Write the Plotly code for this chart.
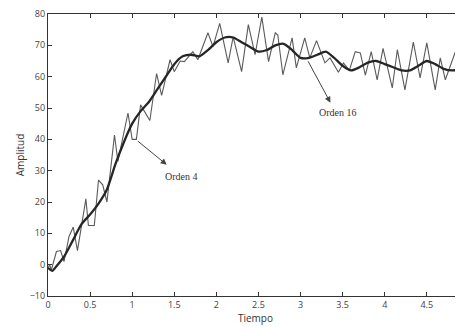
import plotly.graph_objects as go

# Orden 4 (noisy) response
t_orden4 = [0, 0.02, 0.04, 0.1, 0.15, 0.19, 0.25, 0.3, 0.35, 0.4, 0.45, 0.48, 0.55, 0.6, 0.65,
            0.7, 0.79, 0.83, 0.95, 1.0, 1.05, 1.1, 1.17, 1.21, 1.29, 1.35, 1.45, 1.5, 1.57,
            1.62, 1.72, 1.78, 1.9, 1.96, 2.04, 2.14, 2.2, 2.3, 2.38, 2.46, 2.54, 2.62, 2.7,
            2.73, 2.79, 2.9, 2.95, 3.05, 3.11, 3.19, 3.29, 3.35, 3.45, 3.51, 3.58, 3.65, 3.71,
            3.77, 3.84, 3.91, 3.98, 4.09, 4.15, 4.24, 4.34, 4.42, 4.5, 4.6, 4.66, 4.72, 4.84,
            4.9, 4.95]
y_orden4 = [-1, 0, -1.7, 4.2, 4.5, 1, 9, 12, 4.5, 13, 21, 12.5, 12.5, 27, 25.5,
            20, 41.4, 33, 48.4, 40, 40, 51, 48, 46, 61, 54, 65.4, 61.6, 65,
            64.8, 68, 65.4, 74, 69.6, 77, 64.4, 72.7, 61.6, 76.6, 67, 79, 64.8, 74,
            73.3, 60.6, 72.4, 62.8, 72.4, 66, 71.5, 64.4, 66, 61.4, 64.4, 62, 68, 67.6,
            60.5, 68, 59, 69, 56.4, 68.6, 55.8, 71, 59.6, 70.8, 55.8, 66, 59, 68,
            59.6, 65]

# Orden 16 (smooth) response
t_orden16 = [0, 0.05, 0.1, 0.2, 0.3, 0.4, 0.5, 0.6, 0.7, 0.8, 0.9, 1.0, 1.1, 1.2, 1.3, 1.4,
             1.5, 1.6, 1.7, 1.8, 1.9, 2.0, 2.1, 2.2, 2.3, 2.4, 2.5, 2.6, 2.7, 2.8, 2.9, 3.0,
             3.1, 3.2, 3.3, 3.4, 3.5, 3.6, 3.7, 3.8, 3.9, 4.0, 4.1, 4.2, 4.3, 4.4, 4.5, 4.6,
             4.7, 4.8, 4.9, 4.95]
y_orden16 = [-1, -2, -0.5, 3, 8, 13, 16, 19.5, 24, 32, 39, 45, 49, 52, 56, 60,
             64, 66.5, 67, 66.5, 68.5, 71, 72.5, 72.5, 71, 69.5, 68, 68.5, 70, 70.5, 68.5, 66,
             66, 67, 68, 66, 63.5, 62, 63, 64.5, 65, 64, 63, 62, 62, 63.5, 65, 64,
             62.5, 62, 62.5, 64]

x_ticks = [0, 0.5, 1, 1.5, 2, 2.5, 3, 3.5, 4, 4.5]
x_tick_labels = ["0", "0.5", "1", "1.5", "2", "2.5", "3", "3.5", "4", "4.5"]
y_ticks = [-10, 0, 10, 20, 30, 40, 50, 60, 70, 80]

fig = go.Figure()
fig.add_trace(go.Scatter(x=t_orden4, y=y_orden4, mode="lines",
                         line=dict(color="#5a5a5a", width=1.1), name="Orden 4"))
fig.add_trace(go.Scatter(x=t_orden16, y=y_orden16, mode="lines",
                         line=dict(color="#262626", width=2.3, shape="spline", smoothing=0.6),
                         name="Orden 16"))

sans = "Open Sans, Liberation Sans, sans-serif"
tickfont = dict(family=sans, size=9, color="#444")
fig.update_layout(
    width=455, height=319,
    margin=dict(l=40, r=0, t=6, b=31, autoexpand=False),
    paper_bgcolor="white", plot_bgcolor="white",
    showlegend=False,
    xaxis=dict(range=[0, 4.93], tickvals=x_ticks, ticktext=x_tick_labels,
               ticks="inside", ticklen=4, tickcolor="#333", showline=True,
               linecolor="#333", linewidth=1.2, mirror="ticks", showgrid=False,
               zeroline=False, tickfont=tickfont, ticklabeloverflow="allow",
               title=dict(text="Tiempo", standoff=1,
                          font=dict(family=sans, size=10, color="#333"))),
    yaxis=dict(range=[-10, 80], tickvals=y_ticks,
               ticks="inside", ticklen=4, tickcolor="#333", showline=True,
               linecolor="#333", linewidth=1.2, showgrid=False, zeroline=False,
               tickfont=tickfont, ticklabeloverflow="allow",
               title=dict(text="Amplitud", standoff=3,
                          font=dict(family=sans, size=10, color="#333"))),
)

annfont = dict(family="Liberation Serif, serif", size=10, color="#333")
fig.add_annotation(x=1.41, y=31.9, ax=1.05, ay=39.8, axref="x", ayref="y", xref="x", yref="y",
                   text="", showarrow=True, arrowhead=2, arrowsize=1.2, arrowwidth=1,
                   arrowcolor="#444", standoff=0, startstandoff=0)
fig.add_annotation(x=1.585, y=28, text="Orden 4", showarrow=False, font=annfont)
fig.add_annotation(x=3.355, y=51.7, ax=3.08, ay=65.4, axref="x", ayref="y", xref="x", yref="y",
                   text="", showarrow=True, arrowhead=2, arrowsize=1.2, arrowwidth=1,
                   arrowcolor="#444", standoff=0, startstandoff=0)
fig.add_annotation(x=3.44, y=48.5, text="Orden 16", showarrow=False, font=annfont)

fig.write_html("out.html")
